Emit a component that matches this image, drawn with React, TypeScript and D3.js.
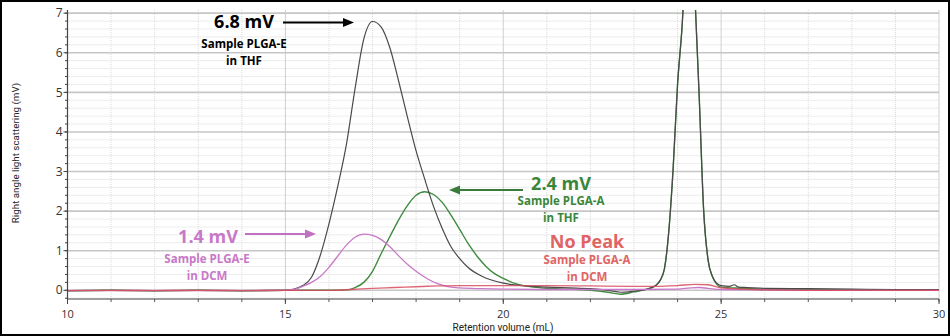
import React from "react";
import * as d3 from "d3";

const W = 950;
const H = 336;
const plotLeft = 67.5;
const plotRight = 939;
const plotTop = 10;
const plotBottom = 299;

const xDomain: [number, number] = [10, 30];
const yDomain: [number, number] = [-0.22, 7.08];
const xMajorTicks = [10, 15, 20, 25, 30];
const yMajorTicks = [0, 1, 2, 3, 4, 5, 6, 7];

// Sample PLGA-E in THF (black)
const eThfX = [10, 11, 12, 13, 14, 15, 15.2, 15.4, 15.6, 15.8, 16.0, 16.2, 16.4, 16.6, 16.8, 17.0, 17.2, 17.4, 17.6, 17.8, 18.0, 18.2, 18.4, 18.6, 18.8, 19.0, 19.2, 19.5, 20.0, 20.5, 21, 21.5, 22, 22.4, 22.7, 23.0, 23.3, 23.5, 23.6, 23.7, 23.8, 23.9, 24.0, 24.1, 24.2, 24.27, 24.35, 24.4, 24.5, 24.6, 24.7, 24.8, 24.9, 25.0, 25.2, 25.3, 25.4, 25.6, 26, 27, 28, 29, 30];
const eThfY = [-0.01, 0.0, -0.01, 0.0, -0.01, 0.0, 0.03, 0.12, 0.33, 0.88, 1.68, 2.62, 3.68, 5.1, 6.35, 6.79, 6.65, 6.12, 5.28, 4.38, 3.52, 2.8, 2.12, 1.56, 1.1, 0.8, 0.57, 0.36, 0.18, 0.11, 0.08, 0.06, 0.04, 0.0, -0.05, -0.02, 0.03, 0.12, 0.25, 0.55, 1.5, 3.1, 5.2, 6.6, 8.5, 9.2, 8.5, 7.4, 4.8, 2.0, 0.77, 0.35, 0.18, 0.12, 0.1, 0.14, 0.08, 0.07, 0.05, 0.04, 0.03, 0.02, 0.02];

// Sample PLGA-A in THF (green)
const aThfX = [10, 11, 12, 13, 14, 15, 16, 16.4, 16.6, 16.8, 17.0, 17.2, 17.4, 17.6, 17.8, 18.0, 18.2, 18.4, 18.6, 18.8, 19.0, 19.2, 19.4, 19.6, 19.8, 20.0, 20.3, 20.7, 21.0, 21.5, 22.0, 22.4, 22.7, 23.0, 23.3, 23.5, 23.6, 23.7, 23.8, 23.9, 24.0, 24.1, 24.2, 24.27, 24.35, 24.4, 24.5, 24.6, 24.7, 24.8, 24.9, 25.0, 25.5, 26, 27, 28, 29, 30];
const aThfY = [-0.01, 0.0, -0.01, 0.0, -0.01, 0.0, 0.0, 0.01, 0.07, 0.2, 0.48, 0.93, 1.36, 1.78, 2.14, 2.4, 2.49, 2.42, 2.22, 1.9, 1.54, 1.17, 0.86, 0.61, 0.42, 0.3, 0.16, 0.08, 0.05, 0.03, 0.0, -0.05, -0.1, -0.04, 0.03, 0.12, 0.25, 0.55, 1.5, 3.1, 5.2, 6.6, 8.5, 9.2, 8.5, 7.4, 4.8, 2.0, 0.77, 0.35, 0.15, 0.08, 0.05, 0.02, 0.02, 0.01, 0.01, 0.01];

// Sample PLGA-E in DCM (magenta)
const eDcmX = [10, 11, 12, 13, 14, 15, 15.2, 15.4, 15.6, 15.8, 16.0, 16.2, 16.4, 16.6, 16.8, 17.0, 17.2, 17.4, 17.6, 17.8, 18.0, 18.2, 18.4, 18.6, 18.8, 19.0, 19.5, 20, 21, 22, 23, 24, 24.3, 24.5, 24.7, 25, 26, 27, 28, 29, 30];
const eDcmY = [0.0, -0.01, 0.0, -0.01, 0.0, 0.0, 0.02, 0.1, 0.2, 0.35, 0.58, 0.86, 1.14, 1.34, 1.42, 1.39, 1.28, 1.1, 0.87, 0.66, 0.48, 0.33, 0.21, 0.13, 0.08, 0.06, 0.04, 0.03, 0.02, 0.02, 0.02, 0.03, 0.06, 0.07, 0.05, 0.02, 0.01, 0.0, 0.0, 0.0, 0.0];

// Sample PLGA-A in DCM (red)
const aDcmX = [10, 11, 12, 13, 14, 15, 16, 16.5, 17, 17.5, 18, 18.5, 19, 20, 21, 22, 23, 23.5, 24, 24.4, 24.7, 25, 25.5, 26, 27, 28, 29, 30];
const aDcmY = [-0.01, 0.0, -0.01, 0.0, -0.01, 0.0, 0.0, 0.02, 0.05, 0.07, 0.09, 0.11, 0.12, 0.12, 0.12, 0.11, 0.1, 0.1, 0.12, 0.15, 0.14, 0.06, 0.03, 0.01, 0.0, 0.0, 0.0, 0.0];

// draw order: green, black, magenta, red
const seriesX = [aThfX, eThfX, eDcmX, aDcmX];
const seriesY = [aThfY, eThfY, eDcmY, aDcmY];
const seriesColors = ["#3f8a3f", "#4a4a4a", "#c878c8", "#d84a5c"];
const seriesWidths = [1.4, 1.2, 1.3, 1.3];
const seriesOpacity = [1, 1, 1, 0.85];

const FONT = "'Open Sans', sans-serif";

function Arrow({ x1, x2, y, color }: { x1: number; x2: number; y: number; color: string }) {
  const dir = x2 > x1 ? 1 : -1;
  const headLen = 11;
  const half = 4.5;
  const bx = x2 - dir * headLen;
  return (
    <g>
      <line x1={x1} y1={y} x2={bx} y2={y} stroke={color} strokeWidth={2.2} />
      <path d={`M${x2},${y} L${bx},${y - half} L${bx},${y + half} Z`} fill={color} />
    </g>
  );
}

export default function App() {
  const x = d3.scaleLinear().domain(xDomain).range([plotLeft, plotRight]);
  const y = d3.scaleLinear().domain(yDomain).range([plotBottom, plotTop]);

  const xMinor = d3.range(10, 30.001, 1);
  const yMinor = d3.range(-0.2, 7.001, 0.2).map((v) => Math.round(v * 10) / 10);

  const line = d3
    .line<[number, number]>()
    .x((d) => x(d[0]))
    .y((d) => y(d[1]))
    .curve(d3.curveMonotoneX);

  return (
    <svg
      width={W}
      height={H}
      style={{ position: "absolute", left: 0, top: 0, background: "#fff" }}
      fontFamily={FONT}
    >
      <defs>
        <clipPath id="plotclip">
          <rect x={plotLeft} y={plotTop} width={plotRight - plotLeft} height={plotBottom - plotTop} />
        </clipPath>
      </defs>
      <rect x={0} y={0} width={W} height={H} fill="#fff" />

      {/* minor horizontal grid */}
      {yMinor
        .filter((v) => Math.abs(v - Math.round(v)) > 0.01)
        .map((v, i) => (
          <line key={"hm" + i} x1={plotLeft} x2={plotRight} y1={y(v)} y2={y(v)} stroke="#d9d9d9" strokeWidth={1} strokeDasharray="1,1" />
        ))}
      {/* minor vertical grid */}
      {xMinor
        .filter((v) => v % 5 !== 0)
        .map((v, i) => (
          <line key={"vm" + i} x1={x(v)} x2={x(v)} y1={plotTop} y2={plotBottom} stroke="#dadada" strokeWidth={1} strokeDasharray="1,1" />
        ))}
      {/* major vertical grid */}
      {xMajorTicks.slice(1).map((v, i) => (
        <line key={"vM" + i} x1={x(v)} x2={x(v)} y1={plotTop} y2={plotBottom} stroke="#cfcfcf" strokeWidth={1} />
      ))}
      {/* major horizontal grid */}
      {yMajorTicks.map((v, i) => (
        <line key={"hM" + i} x1={plotLeft} x2={plotRight} y1={y(v)} y2={y(v)} stroke="#c6c6c6" strokeWidth={1.6} />
      ))}

      {/* series */}
      <g clipPath="url(#plotclip)">
        {seriesX.map((xs, si) => (
          <path
            key={"s" + si}
            d={line(xs.map((xv, i) => [xv, seriesY[si][i]] as [number, number])) || ""}
            fill="none"
            stroke={seriesColors[si]}
            strokeWidth={seriesWidths[si]}
            strokeOpacity={seriesOpacity[si]}
          />
        ))}
      </g>

      {/* y axis */}
      <line x1={plotLeft} x2={plotLeft} y1={plotTop} y2={plotBottom} stroke="#444" strokeWidth={1.2} />
      {yMinor.map((v, i) => (
        <line key={"ytm" + i} x1={plotLeft - 2.5} x2={plotLeft} y1={y(v)} y2={y(v)} stroke="#444" strokeWidth={1} />
      ))}
      {yMajorTicks.map((v) => (
        <g key={"yt" + v}>
          <line x1={plotLeft - 4} x2={plotLeft} y1={y(v)} y2={y(v)} stroke="#444" strokeWidth={1} />
          <text x={plotLeft - 5} y={y(v)} dy="0.35em" textAnchor="end" fontSize={12} fill="#333">
            {v}
          </text>
        </g>
      ))}

      {/* x axis */}
      <line x1={plotLeft} x2={plotRight} y1={plotBottom} y2={plotBottom} stroke="#444" strokeWidth={1.2} />
      {xMinor.map((v, i) => (
        <line key={"xtm" + i} x1={x(v)} x2={x(v)} y1={plotBottom} y2={plotBottom + 3} stroke="#555" strokeWidth={1} />
      ))}
      {xMajorTicks.map((v) => (
        <g key={"xt" + v}>
          <line x1={x(v)} x2={x(v)} y1={plotBottom} y2={plotBottom + 5} stroke="#444" strokeWidth={1} />
          <text x={x(v)} y={318} textAnchor="middle" fontSize={11} fill="#333">
            {v}
          </text>
        </g>
      ))}

      {/* axis titles */}
      <text x={503} y={331} textAnchor="middle" fontSize={10} fontFamily="Roboto, sans-serif" fill="#222">
        Retention volume (mL)
      </text>
      <text
        transform="translate(19,153) rotate(-90)"
        textAnchor="middle"
        fontSize={9.8}
        fontFamily="Roboto, sans-serif"
        fill="#222"
      >
        Right angle light scattering (mV)
      </text>

      {/* annotations */}
      <g fontWeight="bold" textAnchor="middle">
        <text x={244} y={28} fontSize={18} fill="#000">6.8 mV</text>
        <text x={244} y={48} fontSize={11.5} fill="#000">Sample PLGA-E</text>
        <text x={244} y={65} fontSize={11.5} fill="#000">in THF</text>

        <text x={208} y={243} fontSize={18} fill="#c878c8">1.4 mV</text>
        <text x={207} y={263} fontSize={11.5} fill="#c878c8">Sample PLGA-E</text>
        <text x={207} y={280} fontSize={11.5} fill="#c878c8">in DCM</text>

        <text x={561} y={190} fontSize={18} fill="#3a863a">2.4 mV</text>
        <text x={561} y={205} fontSize={11.5} fill="#3a863a">Sample PLGA-A</text>
        <text x={561} y={222} fontSize={11.5} fill="#3a863a">in THF</text>

        <text x={587} y={248} fontSize={18} fill="#e06464">No Peak</text>
        <text x={587} y={264} fontSize={11.5} fill="#e06464">Sample PLGA-A</text>
        <text x={587} y={281} fontSize={11.5} fill="#e06464">in DCM</text>
      </g>
      <Arrow x1={283} x2={354} y={22.5} color="#000" />
      <Arrow x1={245} x2={316} y={234} color="#c070c0" />
      <Arrow x1={523} x2={449} y={190} color="#3a7d3a" />

      {/* outer border */}
      <rect x={1} y={1} width={W - 2} height={H - 2} fill="none" stroke="#000" strokeWidth={2} />
    </svg>
  );
}
